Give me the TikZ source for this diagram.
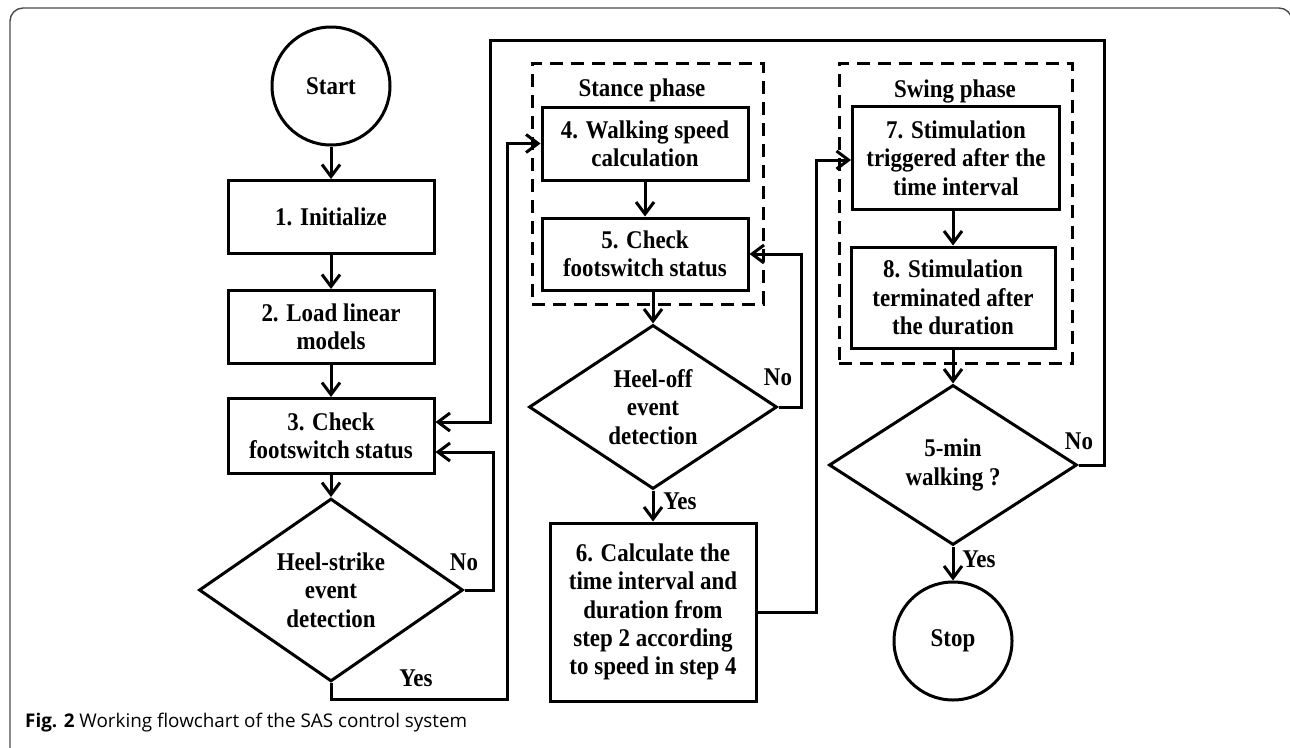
\documentclass[tikz,border=0pt]{standalone}
\usepackage{graphicx}
\usepackage{fontspec}
\setmainfont{Liberation Serif}[FakeStretch=0.9]
\newfontfamily\capfont{Open Sans}
\usetikzlibrary{shapes.geometric,arrows.meta}
\begin{document}
\begin{tikzpicture}[x=1pt,y=-1pt,
  every node/.style={font=\fontsize{25.5}{28.3}\selectfont\bfseries},
  ln/.style={line width=3pt},
  arr/.style={ln,-{Straight Barb[length=12pt,width=18pt,line width=3pt]}},
  stepbox/.style={draw,ln,rectangle,minimum width=206pt,align=center,inner sep=2pt},
  decbox/.style={draw,ln,diamond,inner sep=0pt,align=center},
  termbox/.style={draw,ln,circle,minimum size=118pt,inner sep=0pt},
  groupbox/.style={draw,line width=3pt,dash pattern=on 13pt off 8pt,rectangle,inner sep=0pt},
  lbl/.style={inner sep=0pt}
]
\useasboundingbox (0,0) rectangle (1290,747);
% frame
\draw[line width=1.4pt,draw=black!70,rounded corners=13pt] (10,8) rectangle (1292,762);
% caption
\node[anchor=base west,inner sep=0pt,font=\normalfont] (cap) at (25,727)
  {\resizebox{442pt}{!}{\capfont\fontsize{18}{22}\selectfont\textbf{Fig. 2} Working flowchart of the SAS control system}};

% groups
\node[groupbox,minimum width=231pt,minimum height=241pt] (stance) at (647.5,183.5) {};
\node[groupbox,minimum width=233pt,minimum height=300pt] (swing) at (955.5,213) {};
\node[lbl] (stancelbl) at (642,90) {Stance phase};
\node[lbl] (swinglbl) at (955,91) {Swing phase};

% column 1
\node[termbox] (start) at (331,86) {Start};
\node[stepbox,minimum height=73pt] (b1) at (331,217) {1. Initialize};
\node[stepbox,minimum height=73pt] (b2) at (331,327) {2. Load linear\\models};
\node[stepbox,minimum height=75pt] (b3) at (331,436) {3. Check\\footswitch status};
\node[decbox,minimum width=264pt,minimum height=158pt] (d1) at (331,590) {Heel-strike\\event\\detection};

% column 2
\node[stepbox,minimum height=73pt] (b4) at (645,143.5) {4. Walking speed\\calculation};
\node[stepbox,minimum height=72pt] (b5) at (645,254) {5. Check\\footswitch status};
\node[decbox,minimum width=248pt,minimum height=160pt] (d2) at (653,407) {Heel-off\\event\\detection};
\node[stepbox,minimum height=178pt] (b6) at (653,612) {6. Calculate the\\time interval and\\duration from\\step 2 according\\to speed in step 4};

% column 3
\node[stepbox,minimum width=207pt,minimum height=103pt] (b7) at (956,158) {7. Stimulation\\triggered after the\\time interval};
\node[stepbox,minimum width=204pt,minimum height=101pt] (b8) at (953,297.5) {8. Stimulation\\terminated after\\the duration};
\node[decbox,minimum width=248pt,minimum height=160pt] (d3) at (953,465) {5-min\\walking ?};
\node[termbox] (stop) at (953,641) {Stop};

% labels
\node[lbl] (no1) at (464,562) {No};
\node[lbl] (yes1) at (416,678) {Yes};
\node[lbl] (no2) at (778,377) {No};
\node[lbl] (yes2) at (680,501) {Yes};
\node[lbl] (no3) at (1079,441) {No};
\node[lbl] (yes3) at (979,559) {Yes};

% coordinates
\coordinate (yescorner) at (507,699);
\coordinate (topcorner) at (490,40);

% connectors
\draw[arr] (start) -- (b1);
\draw[arr] (b1) -- (b2);
\draw[arr] (b2) -- (b3);
\draw[arr] (b3) -- (d1);
\draw[arr] (d1.east) -- ++(29,0) |- ([yshift=-16pt]b3.east);
\draw[arr] (d1.south) |- (yescorner) |- (b4.west);
\draw[arr] (b4) -- (b5);
\draw[arr] (d2.north |- b5.south) -- (d2.north);
\draw[arr] (d2.east) -- ++(23,0) |- (b5.east);
\draw[arr] (d2.south) -- (b6.north);
\draw[arr] (b6.east) -- ++(59,0) |- ([yshift=-2pt]b7.west);
\draw[arr] (b7.south -| b8.north) -- (b8.north);
\draw[arr] (b8) -- (d3);
\draw[arr] (d3.east) -- ++(26,0) |- (topcorner) |- ([yshift=14pt]b3.east);
\draw[arr] (d3.south) -- (stop.north);
\end{tikzpicture}
\end{document}
